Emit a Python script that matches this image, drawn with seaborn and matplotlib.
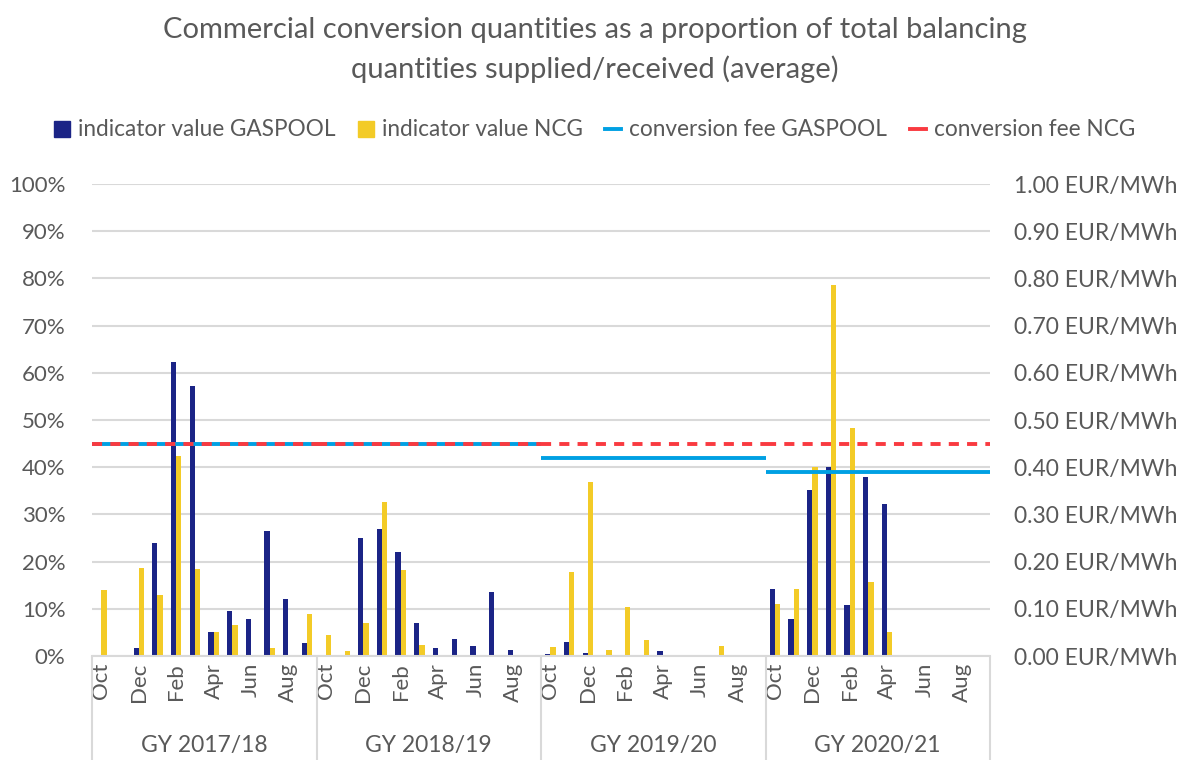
import numpy as np
import pandas as pd
import seaborn as sns
import matplotlib.pyplot as plt
from matplotlib.lines import Line2D
from matplotlib.patches import Patch
from matplotlib.ticker import FuncFormatter

# Datos
# ------------------------------------------------------------------------------
gas_years = ["GY 2017/18", "GY 2018/19", "GY 2019/20", "GY 2020/21"]
months = ["Oct", "Nov", "Dec", "Jan", "Feb", "Mar",
          "Apr", "May", "Jun", "Jul", "Aug", "Sep"]

# indicador en % (12 meses por año de gas)
gaspool = [0, 0, 1.6, 24.0, 62.2, 57.3, 5.0, 9.6, 7.9, 26.5, 12.0, 2.8,
           0, 0, 24.9, 27.0, 22.0, 7.0, 1.6, 3.6, 2.1, 13.5, 1.3, 0,
           0.35, 2.9, 0.6, 0, 0, 0, 1.0, 0, 0, 0, 0, 0,
           14.2, 7.8, 35.2, 40.1, 10.8, 38.0, 32.3, 0, 0, 0, 0, 0]
ncg = [13.9, 0, 18.6, 13.0, 42.3, 18.5, 5.0, 6.6, 0, 1.6, 0, 8.8,
       4.5, 1.1, 6.9, 32.6, 18.3, 2.4, 0, 0, 0, 0, 0, 0,
       1.9, 17.9, 36.9, 1.3, 10.4, 3.4, 0, 0, 0, 2.1, 0.3, 0,
       11.1, 14.2, 40.1, 78.6, 48.4, 15.6, 5.0, 0, 0, 0, 0, 0]

# tarifa de conversión en EUR/MWh por año de gas
fee_gaspool = [0.45, 0.45, 0.42, 0.39]
fee_ncg = [0.45, 0.45, 0.45, 0.45]

lbl_gp = "indicator value GASPOOL"
lbl_ncg = "indicator value NCG"

n = len(gaspool)
df = pd.DataFrame({
    "slot": list(range(n)) * 2,
    "value": np.array(gaspool + ncg) / 100,
    "serie": [lbl_gp] * n + [lbl_ncg] * n,
})

# Colores
# ------------------------------------------------------------------------------
c_navy = "#1B2486"
c_yellow = "#F3CB27"
c_blue = "#00A0E3"
c_red = "#F93A40"
c_text = "#595959"
c_grid = "#D9D9D9"

plt.rcParams["font.family"] = ["Lato", "DejaVu Sans"]

fig = plt.figure(figsize=(11.89, 7.6), dpi=100)
ax = fig.add_axes([92 / 1189, 1 - 656 / 760, (990 - 92) / 1189, (656 - 184) / 760])

sns.barplot(data=df, x="slot", y="value", hue="serie",
            palette=[c_navy, c_yellow], width=0.56, saturation=1,
            legend=False, ax=ax)

ax.set_xlim(-0.5, n - 0.5)
ax.set_ylim(0, 1)
ax.set_yticks(np.arange(0, 1.01, 0.1))
ax.yaxis.set_major_formatter(FuncFormatter(lambda v, p: f"{v * 100:.0f}%"))
ax.set_xticks(range(0, n, 2))
ax.set_xticklabels([months[i % 12] for i in range(0, n, 2)], rotation=90)
ax.set_xlabel("")
ax.set_ylabel("")
ax.tick_params(axis="both", length=0, labelsize=16, colors=c_text)
ax.tick_params(axis="y", pad=19)
ax.tick_params(axis="x", pad=5)
ax.yaxis.grid(True, color=c_grid, lw=1.5)
ax.set_axisbelow(True)
for s in ["top", "right", "left"]:
    ax.spines[s].set_visible(False)
ax.spines["bottom"].set_color(c_grid)
ax.spines["bottom"].set_linewidth(1.5)

# separadores y etiquetas de año de gas
limites = np.arange(len(gas_years) + 1) * 12 - 0.5
ax.vlines(limites, 0, -0.22, transform=ax.get_xaxis_transform(),
          color=c_grid, lw=1.5, clip_on=False)
for i, gy in enumerate(gas_years):
    ax.text((limites[i] + limites[i + 1]) / 2, -0.19, gy,
            transform=ax.get_xaxis_transform(), ha="center", va="center",
            fontsize=16.5, color=c_text)

# eje secundario con las tarifas
ax2 = ax.twinx()
ax2.set_ylim(0, 1)
ax2.set_yticks(np.arange(0, 1.01, 0.1))
ax2.yaxis.set_major_formatter(FuncFormatter(lambda v, p: f"{v:.2f} EUR/MWh"))
ax2.tick_params(axis="y", length=0, labelsize=16.5, colors=c_text, pad=17)
for s in ax2.spines.values():
    s.set_visible(False)

ax2.hlines(fee_gaspool, limites[:-1], limites[1:], color=c_blue, lw=2.8)
ax2.hlines(fee_ncg, limites[:-1], limites[1:], color=c_red, lw=2.8,
           linestyles=[(0, (2.6, 2.1))])

fig.suptitle("Commercial conversion quantities as a proportion of total balancing\n"
             "quantities supplied/received (average)",
             y=0.978, fontsize=21, color=c_text, linespacing=1.55)

handles = [Patch(color=c_navy), Patch(color=c_yellow),
           Line2D([], [], color=c_blue, lw=2.8),
           Line2D([], [], color=c_red, lw=2.8)]
labels = [lbl_gp, lbl_ncg, "conversion fee GASPOOL", "conversion fee NCG"]
fig.legend(handles, labels, loc="center", bbox_to_anchor=(0.5, 1 - 130 / 760),
           ncol=4, frameon=False, fontsize=16.3, labelcolor=c_text,
           handlelength=0.7, handleheight=0.7, handletextpad=0.35,
           columnspacing=1.0)

fig.savefig("out.png", dpi=100)
